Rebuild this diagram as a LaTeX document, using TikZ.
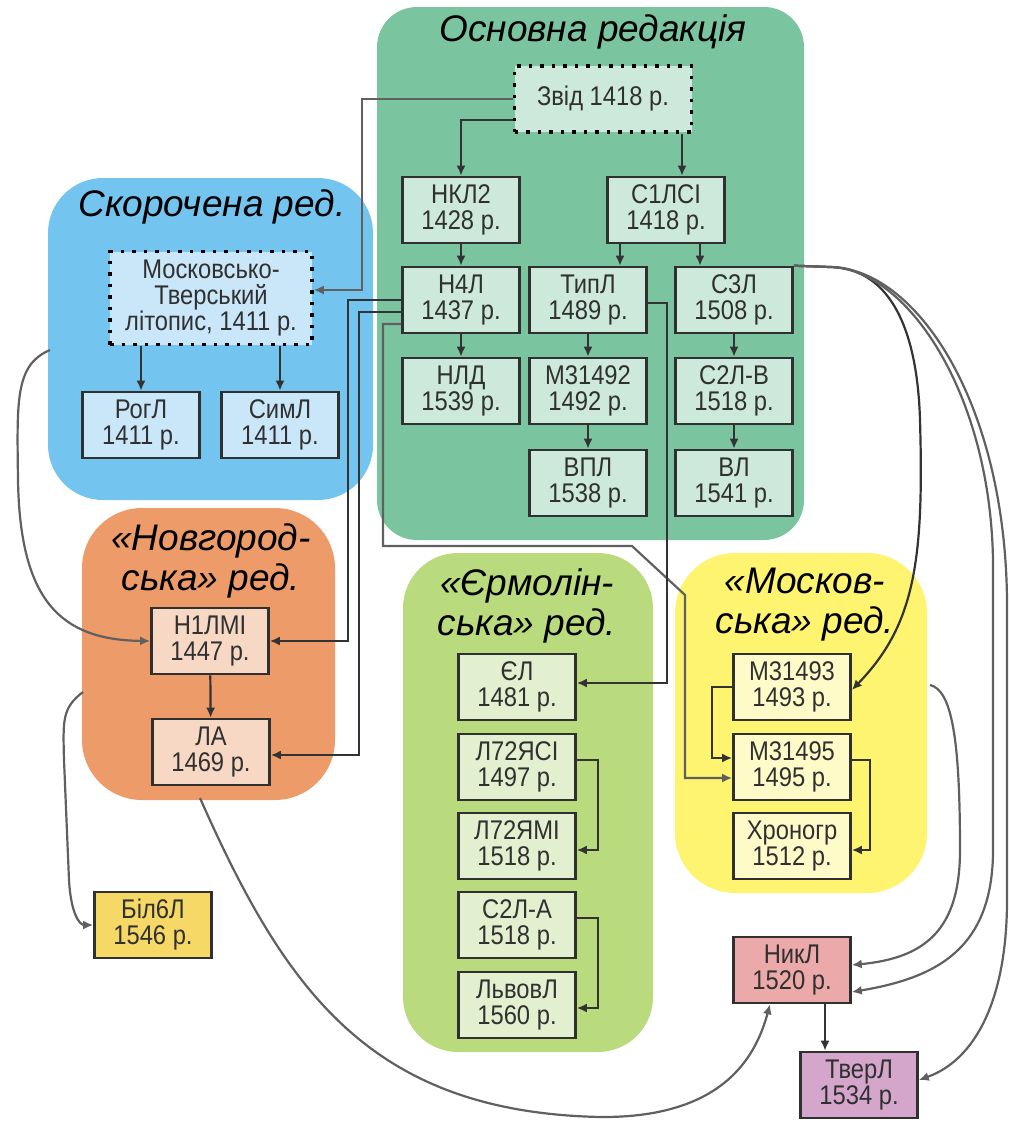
\documentclass[tikz,border=0pt]{standalone}
\usepackage{fontspec}
\setmainfont{Liberation Sans}
\newfontfamily\boxface[FakeStretch=0.88]{Liberation Sans}
\usetikzlibrary{arrows.meta}
\definecolor{grnreg}{HTML}{7AC5A0}
\definecolor{grnbox}{HTML}{CDE9DB}
\definecolor{blureg}{HTML}{73C4EF}
\definecolor{blubox}{HTML}{C9E7F9}
\definecolor{orgreg}{HTML}{EC9B69}
\definecolor{orgbox}{HTML}{F7D8C5}
\definecolor{lgrreg}{HTML}{B9DB7D}
\definecolor{lgrbox}{HTML}{E3F0D0}
\definecolor{yelreg}{HTML}{FEF46F}
\definecolor{yelbox}{HTML}{FFFBC8}
\definecolor{bilbox}{HTML}{F5D865}
\definecolor{nikbox}{HTML}{ECA9A9}
\definecolor{tverbox}{HTML}{D5A6CC}
\definecolor{boxline}{HTML}{303030}
\definecolor{linkdark}{HTML}{333333}
\definecolor{linkgray}{HTML}{606060}
\newcommand{\boxfont}{\boxface\fontsize{27}{26}\selectfont}
\newcommand{\titlefont}{\fontsize{37}{40}\selectfont\itshape}

\begin{document}
\begin{tikzpicture}[x=1pt,y=-1pt,
    box/.style={draw=boxline,line width=2.6pt,minimum width=117pt,minimum height=66pt,
      inner sep=0pt,align=center,font=\boxfont,text=boxline},
    dotbox/.style={draw=black,line width=3.5pt,dash pattern=on 3.5pt off 8pt},
    title/.style={align=center,font=\titlefont,inner sep=0pt},
    link/.style={-{Latex[length=10pt,width=9pt]},draw=linkdark,line width=2.2pt},
    glink/.style={link,draw=linkgray}]
\useasboundingbox (0,0) rectangle (1009,1122);
\fill[grnreg,rounded corners=40pt] (377,7) rectangle (804,540);
\fill[blureg,rounded corners=55pt] (48,178) rectangle (373,500);
\fill[orgreg,rounded corners=60pt] (82,508) rectangle (335,800);
\fill[lgrreg,rounded corners=55pt] (403,553) rectangle (653,1052);
\fill[yelreg,rounded corners=60pt] (675,553) rectangle (927,893);

\node[title] (tosn) at (593,32) {Основна редакція};
\node[title] (tskor) at (212,207) {Скорочена ред.};
\node[title] (tnov) at (211,561) {«Новгород-\\ська» ред.};
\node[title] (term) at (527,606) {«Єрмолін-\\ська» ред.};
\node[title] (tmosk) at (805,605) {«Москов-\\ська» ред.};

\node[box,fill=grnbox,dotbox,minimum width=177pt] (zvid) at (603,99) {Звід 1418 р.};
\node[box,fill=grnbox] (nkl2) at (461,210) {НКЛ2\\1428 р.};
\node[box,fill=grnbox] (s1lsi) at (666,210) {С1ЛСІ\\1418 р.};
\node[box,fill=grnbox] (n4l) at (461,300) {Н4Л\\1437 р.};
\node[box,fill=grnbox] (tipl) at (588,300) {ТипЛ\\1489 р.};
\node[box,fill=grnbox] (s3l) at (734,300) {С3Л\\1508 р.};
\node[box,fill=grnbox] (nld) at (461,391) {НЛД\\1539 р.};
\node[box,fill=grnbox] (m31492) at (588,391) {М31492\\1492 р.};
\node[box,fill=grnbox] (s2lv) at (734,391) {С2Л-В\\1518 р.};
\node[box,fill=grnbox] (vpl) at (588,483) {ВПЛ\\1538 р.};
\node[box,fill=grnbox] (vl) at (734,483) {ВЛ\\1541 р.};

\node[box,fill=blubox,dotbox,minimum width=202pt,minimum height=93pt] (mtl) at (211,298) {Московсько-\\Тверський\\літопис, 1411 р.};
\node[box,fill=blubox] (rogl) at (141,425) {РогЛ\\1411 р.};
\node[box,fill=blubox] (siml) at (280,425) {СимЛ\\1411 р.};

\node[box,fill=orgbox] (n1lmi) at (210,641) {Н1ЛМІ\\1447 р.};
\node[box,fill=orgbox] (la) at (211,752) {ЛА\\1469 р.};
\node[box,fill=bilbox] (bil) at (153,925) {Біл6Л\\1546 р.};

\node[box,fill=lgrbox] (el) at (517,687) {ЄЛ\\1481 р.};
\node[box,fill=lgrbox] (l72si) at (517,767) {Л72ЯСІ\\1497 р.};
\node[box,fill=lgrbox] (l72mi) at (517,846) {Л72ЯМІ\\1518 р.};
\node[box,fill=lgrbox] (s2la) at (517,925) {С2Л-А\\1518 р.};
\node[box,fill=lgrbox] (lvovl) at (517,1005) {ЛьвовЛ\\1560 р.};

\node[box,fill=yelbox] (m31493) at (792,687) {М31493\\1493 р.};
\node[box,fill=yelbox] (m31495) at (792,767) {М31495\\1495 р.};
\node[box,fill=yelbox] (hron) at (792,846) {Хроногр\\1512 р.};
\node[box,fill=nikbox] (nikl) at (792,970) {НикЛ\\1520 р.};
\node[box,fill=tverbox] (tverl) at (859,1085) {ТверЛ\\1534 р.};

\coordinate (skorout) at (50,350);
\coordinate (novout) at (200,798);
\coordinate (novleft) at (83,692);
\coordinate (moskout) at (930,685);

\draw[link] ([yshift=-21pt]zvid.west) -| (nkl2.north);
\draw[link] ([xshift=16pt]s1lsi.north |- zvid.south) -- ([xshift=16pt]s1lsi.north);
\draw[glink] (zvid.west) -- (362,99) |- ([yshift=8pt]mtl.east);
\draw[link] (nkl2) -- (n4l);
\draw[link] ([xshift=32pt]tipl.north |- s1lsi.south) -- ([xshift=32pt]tipl.north);
\draw[link] ([xshift=-34pt]s3l.north |- s1lsi.south) -- ([xshift=-34pt]s3l.north);
\draw[link] (n4l) -- (nld);
\draw[link] (tipl) -- (m31492);
\draw[link] (m31492) -- (vpl);
\draw[link] (s3l) -- (s2lv);
\draw[link] (s2lv) -- (vl);
\draw[link] (rogl.north |- mtl.south) -- (rogl.north);
\draw[link] (siml.north |- mtl.south) -- (siml.north);

\draw[link] (n4l.west) -- (348,300) |- (n1lmi.east);
\draw[link] ([yshift=-12pt]n4l.west) -- (359,312) |- ([yshift=-3pt]la.east);
\draw[glink] ([yshift=-24pt]n4l.west) -- (383,324) -- (383,546) -- (632,546) -- (685,595) |- ([yshift=-11pt]m31495.west);
\draw[link] ([yshift=-3pt]tipl.east) -- (667,303) |- ([yshift=4pt]el.east);
\draw[link] (n1lmi) -- (la);

\draw[link] ([yshift=7pt]l72si.east) -- (598,760) |- ([yshift=-4pt]l72mi.east);
\draw[link] ([yshift=7pt]s2la.east) -- (598,918) |- ([yshift=-3pt]lvovl.east);
\draw[link] (m31493.west) -- (712,687) |- ([yshift=9pt]m31495.west);
\draw[link] ([yshift=7pt]m31495.east) -- (870,760) |- ([yshift=-4pt]hron.east);
\draw[link] ([xshift=33pt]nikl.south) -- ([xshift=33pt]nikl.south |- tverl.north);

\draw[link] (s3l.north east) -- (830,267) .. controls (885,268) and (917,320) .. (920,420) .. controls (924,560) and (915,625) .. ([yshift=-3pt]m31493.east);
\draw[glink] (s3l.north east) -- (830,267) .. controls (905,268) and (990,390) .. (993,560) -- (993,850) .. controls (993,950) and (935,978) .. ([yshift=-22pt]nikl.east);
\draw[glink] (s3l.north east) -- (830,267) .. controls (915,268) and (1005,400) .. (1007,600) -- (1007,900) .. controls (1007,1000) and (975,1060) .. ([yshift=5pt]tverl.east);
\draw[glink] (moskout) .. controls (952,690) and (960,740) .. (960,850) .. controls (960,930) and (925,958) .. ([yshift=5pt]nikl.east);
\draw[glink] (novout) .. controls (285,990) and (370,1112) .. (600,1117) .. controls (720,1118) and (755,1060) .. ([xshift=-22pt]nikl.south);
\draw[glink] (skorout) .. controls (15,365) and (17,400) .. (18,480) .. controls (20,600) and (60,640) .. (n1lmi.west);
\draw[glink] (novleft) .. controls (62,708) and (63,720) .. (64,760) -- (69,880) .. controls (71,915) and (80,925) .. (bil.west);
\end{tikzpicture}
\end{document}
